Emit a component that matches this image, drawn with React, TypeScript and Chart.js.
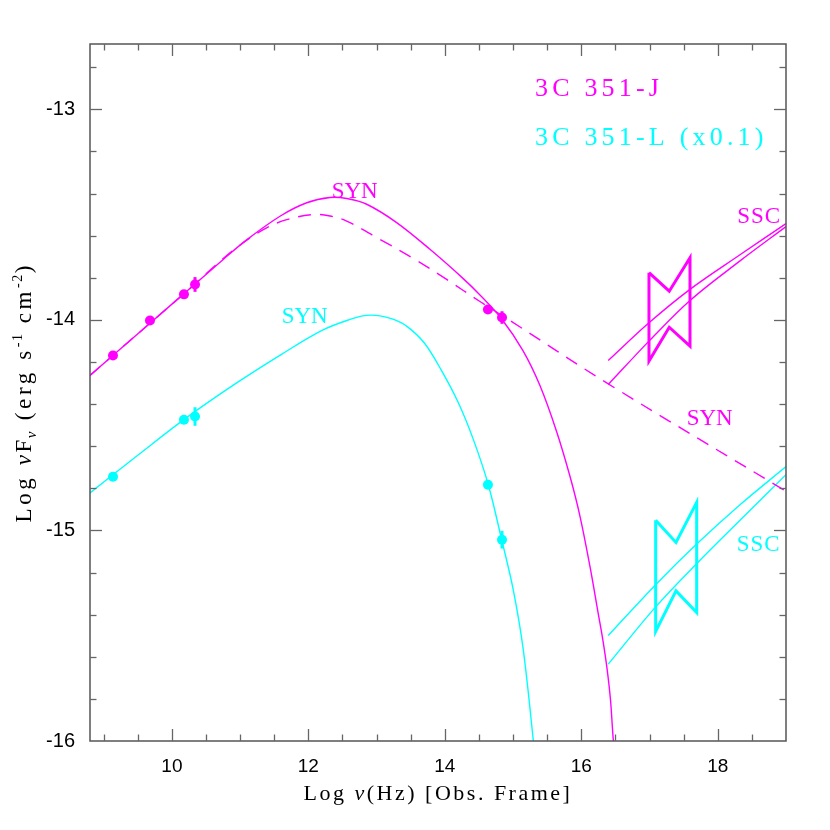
import React, { useEffect, useRef } from 'react';
import { Chart, registerables } from 'chart.js';

Chart.register(...registerables);

const MAGENTA = '#ff00ff';
const CYAN = '#00ffff';

// Observed points: 3C 351-J
const jObsX = [9.137, 9.679, 10.177, 10.339, 14.632, 14.838];
const jObsY = [-14.169, -14.003, -13.879, -13.832, -13.951, -13.989];
const jObsErr = [0, 0, 0, 0.035, 0, 0.03];

// Observed points: 3C 351-L (x0.1)
const lObsX = [9.137, 10.177, 10.339, 14.632, 14.838];
const lObsY = [-14.745, -14.474, -14.459, -14.783, -15.044];
const lObsErr = [0, 0, 0.044, 0, 0.042];

// J synchrotron model (solid)
const jSynX = [8.8, 9.679, 10.339, 10.753, 11.096, 11.584, 11.976, 12.317, 12.562, 12.855, 13.294, 13.782, 14.266, 14.515, 14.833, 15.145, 15.394, 15.639, 15.834, 15.981, 16.127, 16.249, 16.318, 16.376, 16.428, 16.469, 16.508];
const jSynY = [-14.264, -14.016, -13.830, -13.713, -13.620, -13.508, -13.444, -13.419, -13.424, -13.451, -13.538, -13.665, -13.803, -13.882, -13.996, -14.146, -14.312, -14.531, -14.743, -14.933, -15.171, -15.396, -15.524, -15.653, -15.805, -15.995, -16.114];

// J synchrotron model (dashed)
const jSynDashX = [8.8, 9.679, 10.339, 10.602, 10.95, 11.34, 11.683, 12.072, 12.317, 12.562, 13.05, 13.538, 14.027, 14.515, 14.93, 16.395, 19.0];
const jSynDashY = [-14.264, -14.016, -13.830, -13.751, -13.657, -13.571, -13.524, -13.500, -13.507, -13.531, -13.618, -13.708, -13.808, -13.913, -13.998, -14.304, -14.814];

// J SSC models
const jSscX = [16.395, 16.992, 17.593, 18.326, 19.0];
const jSscUpY = [-14.193, -14.014, -13.855, -13.691, -13.543];
const jSscLoY = [-14.307, -14.101, -13.908, -13.72, -13.557];

// J X-ray bowtie
const jBowX = [16.992, 17.289, 17.593, 17.593, 17.289, 16.992, 16.992];
const jBowY = [-13.776, -13.864, -13.705, -14.125, -14.035, -14.196, -13.776];

// L synchrotron model
const lSynX = [8.8, 9.5, 10.2, 10.9, 11.6, 12.2, 12.6, 12.85, 13.05, 13.25, 13.45, 13.7, 13.95, 14.2, 14.42, 14.637, 14.833, 15.003, 15.15, 15.296, 15.306];
const lSynY = [-14.822, -14.643, -14.468, -14.31, -14.165, -14.05, -13.999, -13.979, -13.981, -13.998, -14.032, -14.11, -14.24, -14.395, -14.57, -14.783, -15.044, -15.282, -15.567, -15.995, -16.04];

// L SSC models
const lSscX = [16.395, 17.09, 17.691, 18.326, 19.0];
const lSscUpY = [-15.499, -15.258, -15.065, -14.878, -14.697];
const lSscLoY = [-15.635, -15.363, -15.158, -14.952, -14.735];

// L X-ray bowtie
const lBowX = [17.09, 17.388, 17.691, 17.691, 17.388, 17.09, 17.09];
const lBowY = [-14.952, -15.057, -14.867, -15.39, -15.287, -15.48, -14.952];

// Axis ticks
const xTickLabels = [10, 12, 14, 16, 18];
const yTickLabels = [-16, -15, -14, -13];

const SERIF = '"Liberation Serif", "Times New Roman", serif';
const SANS = '"Liberation Sans", Arial, sans-serif';

const annotations = [
  { text: '3C 351-J', x: 15.321, y: -12.938, color: MAGENTA, size: 26, ls: 4.2 },
  { text: '3C 351-L (x0.1)', x: 15.321, y: -13.171, color: CYAN, size: 26, ls: 4.2 },
  { text: 'SYN', x: 12.342, y: -13.419, color: MAGENTA, size: 23, ls: 0 },
  { text: 'SYN', x: 11.609, y: -14.017, color: CYAN, size: 23, ls: 0 },
  { text: 'SYN', x: 17.544, y: -14.501, color: MAGENTA, size: 23, ls: 0 },
  { text: 'SSC', x: 18.286, y: -13.538, color: MAGENTA, size: 23, ls: 1 },
  { text: 'SSC', x: 18.277, y: -15.1, color: CYAN, size: 23, ls: 1 },
];

const zip = (xs: number[], ys: number[]) => xs.map((x, i) => ({ x, y: ys[i] }));

const errorSets = [
  { xs: jObsX, ys: jObsY, es: jObsErr, color: MAGENTA },
  { xs: lObsX, ys: lObsY, es: lObsErr, color: CYAN },
];

const framePlugin = {
  id: 'frameAndText',
  afterDatasetsDraw(chart: any) {
    const { ctx, chartArea: a, scales } = chart;
    const xs = scales.x;
    const ys = scales.y;
    ctx.save();

    // error bars
    ctx.lineWidth = 3;
    errorSets.forEach((s) => {
      ctx.strokeStyle = s.color;
      s.xs.forEach((xv, i) => {
        const e = s.es[i];
        if (!e) return;
        const px = xs.getPixelForValue(xv);
        ctx.beginPath();
        ctx.moveTo(px, ys.getPixelForValue(s.ys[i] - e));
        ctx.lineTo(px, ys.getPixelForValue(s.ys[i] + e));
        ctx.stroke();
      });
    });

    // frame
    ctx.strokeStyle = '#555';
    ctx.lineWidth = 1.5;
    ctx.strokeRect(a.left, a.top, a.right - a.left, a.bottom - a.top);

    // ticks (inward, all sides)
    ctx.lineWidth = 1.3;
    ctx.strokeStyle = '#666';
    const line = (x1: number, y1: number, x2: number, y2: number) => {
      ctx.beginPath();
      ctx.moveTo(x1, y1);
      ctx.lineTo(x2, y2);
      ctx.stroke();
    };
    for (let k = 18; k < 38; k++) {
      const v = k * 0.5;
      const major = k % 4 === 0;
      const len = major ? 12 : 6.5;
      const px = Math.round(xs.getPixelForValue(v)) + 0.5;
      line(px, a.bottom, px, a.bottom - len);
      line(px, a.top, px, a.top + len);
    }
    for (let k = -79; k <= -64; k++) {
      const v = k * 0.2;
      const major = k % 5 === 0;
      const len = major ? 12 : 6.5;
      const py = Math.round(ys.getPixelForValue(v)) + 0.5;
      line(a.left, py, a.left + len, py);
      line(a.right, py, a.right - len, py);
    }

    // annotations
    ctx.textAlign = 'left';
    ctx.textBaseline = 'alphabetic';
    annotations.forEach((t) => {
      ctx.font = `${t.size}px ${SERIF}`;
      (ctx as any).letterSpacing = `${t.ls}px`;
      ctx.fillStyle = t.color;
      ctx.fillText(t.text, xs.getPixelForValue(t.x), ys.getPixelForValue(t.y));
    });

    ctx.fillStyle = '#000';
    const drawParts = (parts: any[], y: number, centerAt: number) => {
      let total = 0;
      const widths = parts.map((p) => {
        ctx.font = `${p.it ? 'italic ' : ''}${p.s}px ${SERIF}`;
        (ctx as any).letterSpacing = `${p.ls}px`;
        const w = ctx.measureText(p.t).width;
        total += w;
        return w;
      });
      let cx = centerAt - total / 2;
      parts.forEach((p, i) => {
        ctx.font = `${p.it ? 'italic ' : ''}${p.s}px ${SERIF}`;
        (ctx as any).letterSpacing = `${p.ls}px`;
        ctx.fillText(p.t, cx, y + p.dy);
        cx += widths[i];
      });
    };
    ctx.textAlign = 'left';
    drawParts(
      [
        { t: 'Log ', s: 22, dy: 0, ls: 2.5 },
        { t: '\u03bd', s: 22, dy: 0, ls: 2.5, it: true },
        { t: '(Hz) [Obs. Frame]', s: 22, dy: 0, ls: 2.5 },
      ],
      800,
      (a.left + a.right) / 2
    );

    // y title, rotated, with sub/superscripts
    ctx.translate(31, (a.top + a.bottom) / 2);
    ctx.rotate(-Math.PI / 2);
    drawParts(
      [
        { t: 'Log ', s: 23, dy: 0, ls: 3.6 },
        { t: '\u03bd', s: 23, dy: 0, ls: 2.5, it: true },
        { t: 'F', s: 23, dy: 0, ls: 1.5 },
        { t: '\u03bd', s: 15, dy: 5, ls: 2, it: true },
        { t: ' (erg s', s: 23, dy: 0, ls: 3.6 },
        { t: '-1', s: 14, dy: -9, ls: 1.5 },
        { t: ' cm', s: 23, dy: 0, ls: 3.6 },
        { t: '-2', s: 14, dy: -9, ls: 1.5 },
        { t: ')', s: 23, dy: 0, ls: 3 },
      ],
      0,
      0
    );

    ctx.restore();
  },
};

export default function App() {
  const ref = useRef<HTMLCanvasElement | null>(null);

  useEffect(() => {
    if (!ref.current) return;
    const lineDs = (xs: number[], ys: number[], color: string, extra: any = {}) => ({
      data: zip(xs, ys),
      showLine: true,
      borderColor: color,
      backgroundColor: color,
      borderWidth: 1.4,
      pointRadius: 0,
      fill: false,
      cubicInterpolationMode: 'default',
      tension: 0.35,
      ...extra,
    });
    const chart = new Chart(ref.current, {
      type: 'scatter',
      data: {
        datasets: [
          {
            data: zip(jObsX, jObsY),
            pointRadius: 5,
            pointBackgroundColor: MAGENTA,
            pointBorderWidth: 0,
            showLine: false,
          },
          {
            data: zip(lObsX, lObsY),
            pointRadius: 5,
            pointBackgroundColor: CYAN,
            pointBorderWidth: 0,
            showLine: false,
          },
          lineDs(jSynX, jSynY, MAGENTA),
          lineDs(jSynDashX, jSynDashY, MAGENTA, { borderDash: [13, 9] }),
          lineDs(jSscX, jSscUpY, MAGENTA),
          lineDs(jSscX, jSscLoY, MAGENTA),
          lineDs(jBowX, jBowY, MAGENTA, { borderWidth: 3, tension: 0 }),
          lineDs(lSynX, lSynY, CYAN),
          lineDs(lSscX, lSscUpY, CYAN),
          lineDs(lSscX, lSscLoY, CYAN),
          lineDs(lBowX, lBowY, CYAN, { borderWidth: 3, tension: 0 }),
        ] as any,
      },
      options: {
        animation: false,
        responsive: false,
        layout: { padding: { left: 0, right: 44, top: 44, bottom: 0 } },
        plugins: {
          legend: { display: false },
          tooltip: { enabled: false },
        },
        scales: {
          x: {
            type: 'linear',
            min: 8.8,
            max: 19,
            grid: { display: false, drawTicks: false },
            border: { display: false },
            afterBuildTicks: (s: any) => {
              s.ticks = xTickLabels.map((v) => ({ value: v }));
            },
            afterFit: (s: any) => {
              s.height = 89;
            },
            ticks: {
              color: '#000',
              font: { family: SANS, size: 19 },
              padding: 14,
              maxRotation: 0,
              autoSkip: false,
              callback: (v: any) => String(v),
            },
          },
          y: {
            type: 'linear',
            min: -16,
            max: -12.69,
            grid: { display: false, drawTicks: false },
            border: { display: false },
            afterBuildTicks: (s: any) => {
              s.ticks = yTickLabels.map((v) => ({ value: v }));
            },
            afterFit: (s: any) => {
              s.width = 90;
            },
            ticks: {
              color: '#000',
              font: { family: SANS, size: 20 },
              padding: 15,
              autoSkip: false,
              callback: (v: any) => String(v),
            },
          },
        },
      } as any,
      plugins: [framePlugin],
    });
    return () => chart.destroy();
  }, []);

  return (
    <div style={{ position: 'fixed', left: 0, top: 0, width: 830, height: 830, background: '#fff' }}>
      <canvas ref={ref} width={830} height={830} style={{ display: 'block' }} />
    </div>
  );
}
